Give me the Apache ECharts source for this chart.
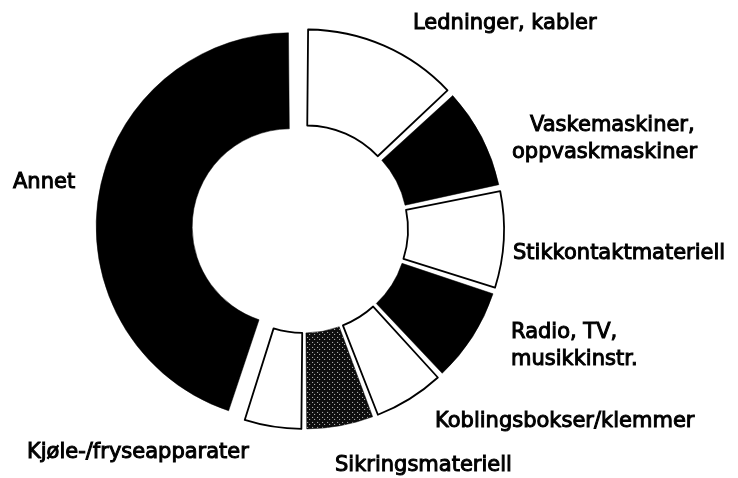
<!DOCTYPE html>
<html>
<head>
<meta charset="utf-8">
<script src="https://cdn.jsdelivr.net/npm/echarts@6/dist/echarts.min.js"></script>
<style>
  html, body { margin: 0; background: #fff; }
  #chart { width: 738px; height: 478px; }
</style>
</head>
<body>
<div id="chart"></div>
<script>
// andeler (prosent) lest av figuren, med klokka fra toppen
var categories = ['Ledninger, kabler', 'Vaskemaskiner,\noppvaskmaskiner', 'Stikkontaktmateriell',
  'Radio, TV,\nmusikkinstr.', 'Koblingsbokser/klemmer', 'Sikringsmateriell',
  'Kjøle-/fryseapparater', 'Annet'];
var shares = [13.1, 8.6, 8.3, 8.1, 6.1, 5.8, 5.0, 45.0];

// utseende
var fills = ['white', 'black', 'white', 'black', 'white', 'dots', 'white', 'black'];
var labelAt = [[413, 24], [512, 139], [513, 254], [511, 346], [435, 422], [335, 466], [27, 453], [13, 183]];
var bigOne = 7; // Annet er trukket lenger ut

function dots() {
  var c = document.createElement('canvas');
  c.width = 5; c.height = 5;
  var g = c.getContext('2d');
  g.fillStyle = '#0d0d0d';
  g.fillRect(0, 0, 5, 5);
  g.fillStyle = '#c8c8c8';
  g.fillRect(1, 1, 1, 1);
  g.fillRect(3, 3, 1, 1);
  return c;
}
var dotPattern = { image: dots(), repeat: 'repeat' };
var hidden = { color: 'rgba(0,0,0,0)', borderWidth: 0 };

var common = {
  type: 'pie',
  center: [304, 229],
  radius: [98, 194],
  startAngle: 90,
  clockwise: true,
  padAngle: 1,
  avoidLabelOverlap: false,
  silent: true,
  emphasis: { disabled: true },
  labelLine: { show: false }
};

// skivene, trukket ut fra sentrum
function sliceSeries(forBig, offset) {
  var data = categories.map(function (name, i) {
    var visible = (i === bigOne) === forBig;
    var style = visible ? {
      color: fills[i] === 'dots' ? dotPattern : fills[i],
      borderColor: '#000',
      borderWidth: fills[i] === 'white' ? 1.8 : 0.5
    } : hidden;
    return {
      name: name,
      value: shares[i],
      selected: true,
      itemStyle: style,
      select: { itemStyle: style }
    };
  });
  return echarts.util.extend({
    selectedMode: 'multiple',
    selectedOffset: offset,
    label: { show: false },
    data: data
  }, common);
}

var textStyle = {
  fontFamily: 'DejaVu Sans',
  fontSize: 21,
  lineHeight: 27,
  color: '#000',
  textBorderColor: '#000',
  textBorderWidth: 1
};

// etikettene
function labelSeries() {
  var data = categories.map(function (name, i) {
    var item = { name: name, value: shares[i], itemStyle: hidden };
    if (i === 1) {
      var lines = name.split('\n');
      item.label = { formatter: '{p|' + lines[0] + '}\n' + lines[1] };
    }
    return item;
  });
  return echarts.util.extend({
    label: echarts.util.extend({
      show: true,
      position: 'outside',
      rich: { p: echarts.util.extend({ padding: [0, 0, 0, 18] }, textStyle) }
    }, textStyle),
    labelLayout: function (params) {
      var p = labelAt[params.dataIndex];
      return { x: p[0], y: p[1], align: 'left', verticalAlign: 'middle' };
    },
    data: data
  }, common);
}

var chart = echarts.init(document.getElementById('chart'));
chart.setOption({
  animation: false,
  backgroundColor: '#fff',
  series: [sliceSeries(false, 6), sliceSeries(true, 14), labelSeries()]
});
</script>
</body>
</html>
